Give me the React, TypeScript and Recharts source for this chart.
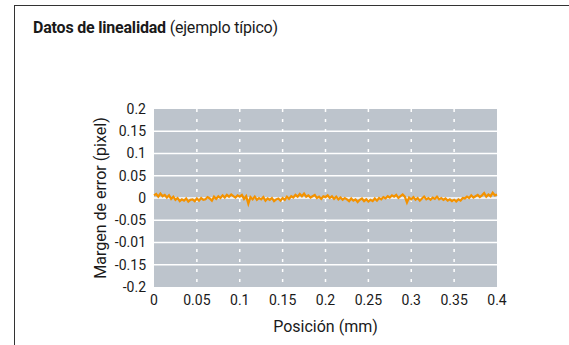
import { CartesianGrid, Line, LineChart, XAxis, YAxis } from "recharts"

const step = 0.0025

// error values in thousandths of a pixel, one every 0.0025 mm from 0 to 0.4
const errores = [
  6, 9, 3, 10, 4, 7, 1, 6, -2, 3,
  -4, 0, -7, -3, -6, -1, -8, -4, -3, -7,
  -1, -6, 0, -4, -3, 2, -1, -6, 3, -2,
  4, 0, 6, 1, 7, 3, 8, 4, 1, 6,
  3, 7, -2, 4, -13, 2, -3, 3, -4, 0,
  -3, 2, -6, -1, -4, 0, -7, -3, -1, -6,
  0, -4, 3, -2, 4, 1, 7, 3, 9, 4,
  10, 3, 6, 1, 4, 7, 0, 3, -2, 4,
  2, 6, 0, 4, -2, 3, -3, 1, -4, 0,
  -3, -7, -1, -6, -3, -9, -4, -1, -7, -3,
  -8, -4, -7, -1, -6, 0, -3, 2, -1, 4,
  1, 6, 3, 7, 0, 4, 8, 3, -10, 1,
  -3, 2, -4, 0, -6, -1, 3, -3, 0, -4,
  1, -2, 3, -3, 0, -4, -1, -6, -3, -7,
  -4, -8, -3, -6, 0, -1, 3, 0, 6, 1,
  4, 7, 2, 6, 11, 3, 8, 4, 12, 6,
  8,
]

const xTicks = [0, 0.05, 0.1, 0.15, 0.2, 0.25, 0.3, 0.35, 0.4]
const xTickLabels = ["0", "0.05", "0.1", "0.15", "0.2", "0.25", "0.3", "0.35", "0.4"]
const yTicks = [0.2, 0.15, 0.1, 0.05, 0, -0.05, -0.1, -0.15, -0.2]
const yTickLabels = ["0.2", "0.15", "0.1", "0.05", "0", "-0.05", "-0.01", "-0.15", "-0.2"]
const yGrid = [0.15, 0.1, 0.05, 0, -0.05, -0.1, -0.15]
const xGrid = [0.05, 0.1, 0.15, 0.2, 0.25, 0.3, 0.35]

const data = errores.map((e, i) => ({ pos: i * step, error: e / 1000 }))

const font = "Roboto, 'Liberation Sans', sans-serif"
const ink = "#1a1a1a"

export default function App() {
  return (
    <div style={{ position: "absolute", left: 0, top: 0, width: 569, height: 345, background: "#fff", fontFamily: font, color: ink }}>
      <div style={{ position: "absolute", left: 14, top: 5, right: 0, height: 1, background: "#333" }} />
      <div style={{ position: "absolute", left: 14, top: 5, bottom: 0, width: 1, background: "#333" }} />
      <div style={{ position: "absolute", left: 33, top: 18, fontSize: 16, whiteSpace: "nowrap", letterSpacing: -0.2 }}>
        <span style={{ fontWeight: 700 }}>Datos de linealidad</span> (ejemplo típico)
      </div>
      <LineChart width={569} height={345} data={data} margin={{ top: 109, right: 72, bottom: 8, left: 94 }}>
        <CartesianGrid fill="#bdc4cc" stroke="#ffffff" strokeWidth={1.5} vertical={false} horizontalValues={yGrid} />
        <CartesianGrid stroke="#ffffff" strokeWidth={1.5} strokeDasharray="3 7" horizontal={false} verticalValues={xGrid} />
        <XAxis
          dataKey="pos"
          type="number"
          domain={[0, 0.4]}
          ticks={xTicks}
          tickFormatter={(v) => xTickLabels[xTicks.indexOf(v)] ?? String(v)}
          axisLine={false}
          tickLine={false}
          height={50}
          interval={0}
          tick={{ fill: ink, fontSize: 14, fontFamily: font }}
          label={{ value: "Posición (mm)", position: "insideBottom", offset: 5, fill: ink, fontSize: 16, fontFamily: font }}
        />
        <YAxis
          type="number"
          domain={[-0.2, 0.2]}
          ticks={yTicks}
          tickFormatter={(v) => yTickLabels[yTicks.indexOf(v)] ?? String(v)}
          axisLine={false}
          tickLine={false}
          width={60}
          interval={0}
          tick={{ fill: ink, fontSize: 14, fontFamily: font }}
          label={{ value: "Margen de error (pixel)", angle: -90, position: "insideLeft", offset: 6, fill: ink, fontSize: 16, fontFamily: font, style: { textAnchor: "middle" } }}
        />
        <Line type="linear" dataKey="error" stroke="#f39200" strokeWidth={2.2} dot={false} isAnimationActive={false} />
      </LineChart>
    </div>
  )
}
